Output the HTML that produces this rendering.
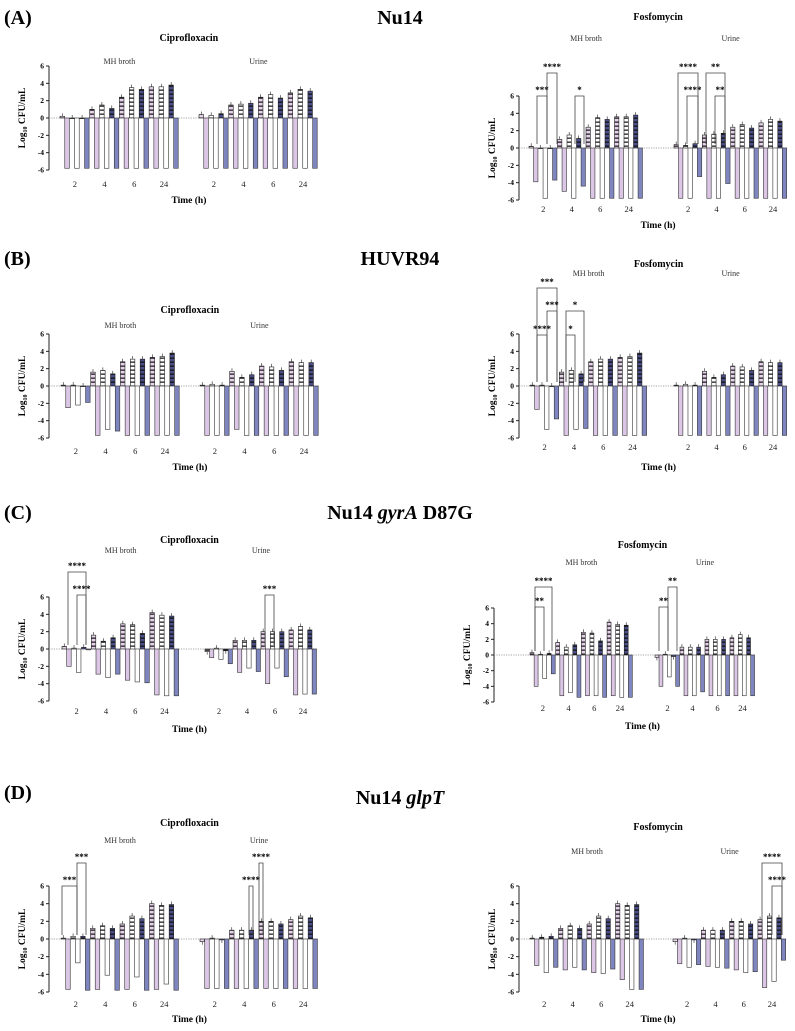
<!DOCTYPE html>
<html><head><meta charset="utf-8"><style>
body{margin:0;background:#fff}
svg{display:block;font-family:"Liberation Serif",serif}
</style></head><body>
<svg id="fig" width="795" height="1031" viewBox="0 0 795 1031" xmlns="http://www.w3.org/2000/svg">
<defs>
<pattern id="pPink" width="4" height="4" patternUnits="userSpaceOnUse"><rect width="4" height="4" fill="#e6d2ea"/><rect y="1.5" width="4" height="1.3" fill="#222"/></pattern>
<pattern id="pWhite" width="4" height="4" patternUnits="userSpaceOnUse"><rect width="4" height="4" fill="#fff"/><rect y="1.5" width="4" height="1.3" fill="#222"/></pattern>
<pattern id="pBlue" width="4" height="4" patternUnits="userSpaceOnUse"><rect width="4" height="4" fill="#4a4f8a"/><rect y="1.5" width="4" height="1.3" fill="#111"/></pattern>
</defs>
<text x="4" y="24" font-size="20" font-weight="bold">(A)</text>
<text x="400" y="24" font-size="20" font-weight="bold" text-anchor="middle">Nu14</text>
<text x="4" y="265" font-size="20" font-weight="bold">(B)</text>
<text x="400" y="265" font-size="20" font-weight="bold" text-anchor="middle">HUVR94</text>
<text x="4" y="519" font-size="20" font-weight="bold">(C)</text>
<text x="400" y="519" font-size="20" font-weight="bold" text-anchor="middle">Nu14 <tspan font-style="italic">gyrA</tspan> D87G</text>
<text x="4" y="799" font-size="20" font-weight="bold">(D)</text>
<text x="400" y="804" font-size="20" font-weight="bold" text-anchor="middle">Nu14 <tspan font-style="italic">glpT</tspan></text>
</svg>
<script>
// ---- data (log10 CFU/mL); 12 slots per condition: 4 time points x 3 strains ----
const timeLabels = ["2","4","6","24"];
const yTicks = [6,4,2,0,-2,-4,-6];
const aCipMhPos = [0.2,0,0, 1.0,1.5,1.1, 2.4,3.5,3.3, 3.6,3.6,3.8];
const aCipMhNeg = [-5.8,-5.8,-5.8, -5.8,-5.8,-5.8, -5.8,-5.8,-5.8, -5.8,-5.8,-5.8];
const aCipUrPos = [0.4,0.3,0.5, 1.5,1.6,1.7, 2.4,2.7,2.3, 2.9,3.3,3.1];
const aCipUrNeg = [-5.8,-5.8,-5.8, -5.8,-5.8,-5.8, -5.8,-5.8,-5.8, -5.8,-5.8,-5.8];
const aFosMhPos = [0.2,0,0, 1.0,1.5,1.1, 2.4,3.5,3.3, 3.6,3.6,3.8];
const aFosMhNeg = [-3.9,-5.8,-3.7, -5.0,-5.8,-4.4, -5.8,-5.8,-5.8, -5.8,-5.8,-5.8];
const aFosUrPos = [0.4,0.3,0.5, 1.5,1.6,1.7, 2.4,2.7,2.3, 2.9,3.3,3.1];
const aFosUrNeg = [-5.8,-5.8,-3.3, -5.8,-5.8,-4.1, -5.8,-5.8,-5.8, -5.8,-5.8,-5.8];
const bCipMhPos = [0.1,0.1,0, 1.6,1.8,1.4, 2.8,3.1,3.1, 3.3,3.4,3.8];
const bCipMhNeg = [-2.5,-2.2,-1.9, -5.7,-5.0,-5.2, -5.7,-5.7,-5.7, -5.7,-5.7,-5.7];
const bCipUrPos = [0.1,0.2,0.1, 1.7,1.0,1.3, 2.3,2.2,1.8, 2.8,2.7,2.7];
const bCipUrNeg = [-5.7,-5.7,-5.7, -5.0,-5.7,-5.7, -5.7,-5.7,-5.7, -5.7,-5.7,-5.7];
const bFosMhPos = [0.1,0.1,0, 1.6,1.8,1.4, 2.8,3.1,3.1, 3.3,3.4,3.8];
const bFosMhNeg = [-2.7,-5.0,-3.8, -5.7,-5.0,-4.9, -5.7,-5.7,-5.7, -5.7,-5.7,-5.7];
const bFosUrPos = [0.1,0.2,0.1, 1.7,1.0,1.3, 2.3,2.2,1.8, 2.8,2.7,2.7];
const bFosUrNeg = [-5.7,-5.7,-5.7, -5.7,-5.7,-5.7, -5.7,-5.7,-5.7, -5.7,-5.7,-5.7];
const cCipMhPos = [0.3,0.1,0.2, 1.6,0.9,1.3, 2.9,2.8,1.8, 4.2,3.9,3.8];
const cCipMhNeg = [-2.0,-2.7,-0.1, -2.9,-3.3,-2.9, -3.6,-3.8,-3.9, -5.3,-5.4,-5.4];
const cCipUrPos = [-0.3,0.1,-0.2, 1.0,1.0,1.0, 2.0,2.0,2.0, 2.2,2.6,2.2];
const cCipUrNeg = [-1.0,-1.2,-1.7, -2.7,-2.2,-2.6, -4.0,-2.2,-3.2, -5.3,-5.2,-5.2];
const cFosMhPos = [0.3,0.1,0.2, 1.6,1.0,1.3, 2.9,2.8,1.8, 4.2,3.9,3.8];
const cFosMhNeg = [-4.0,-3.0,-2.4, -5.2,-4.8,-5.4, -5.2,-5.2,-5.4, -5.2,-5.4,-5.4];
const cFosUrPos = [-0.3,0.1,-0.2, 1.0,1.0,1.0, 2.0,2.0,2.0, 2.2,2.6,2.2];
const cFosUrNeg = [-4.0,-2.8,-4.0, -5.2,-5.2,-4.7, -5.2,-5.2,-5.2, -5.2,-5.2,-5.2];
const dCipMhPos = [0.1,0.3,0.3, 1.2,1.5,1.2, 1.7,2.6,2.3, 4.0,3.8,3.9];
const dCipMhNeg = [-5.7,-2.7,-5.8, -5.7,-4.1,-5.8, -5.7,-4.3,-5.8, -5.7,-5.1,-5.8];
const dCipUrPos = [-0.3,0.1,-0.1, 1.0,1.0,1.0, 2.0,2.0,1.7, 2.2,2.6,2.4];
const dCipUrNeg = [-5.6,-5.6,-5.6, -5.6,-5.6,-5.6, -5.6,-5.6,-5.6, -5.6,-5.6,-5.6];
const dFosMhPos = [0.1,0.2,0.3, 1.2,1.5,1.2, 1.7,2.6,2.3, 4.0,3.8,3.9];
const dFosMhNeg = [-3.0,-3.8,-3.2, -3.5,-3.2,-3.5, -3.8,-3.9,-3.4, -4.6,-5.7,-5.7];
const dFosUrPos = [-0.3,0.1,-0.1, 1.0,1.0,1.0, 2.0,2.0,1.7, 2.2,2.6,2.4];
const dFosUrNeg = [-2.8,-3.2,-2.9, -3.1,-3.2,-3.3, -3.5,-3.8,-3.7, -5.5,-4.8,-2.4];

const NS="http://www.w3.org/2000/svg";
const svg=document.getElementById('fig');
function mk(tag,attrs,parent){const e=document.createElementNS(NS,tag);for(const k in attrs)e.setAttribute(k,attrs[k]);(parent||svg).appendChild(e);return e;}
function txt(s,x,y,size,parent,extra){const e=mk('text',Object.assign({x:x,y:y,'font-size':size,'text-anchor':'middle'},extra||{}),parent);e.textContent=s;return e;}

const posFill=['url(#pPink)','url(#pWhite)','url(#pBlue)'];
const negFill=['#dcc6e6','#ffffff','#7f86bf'];

function chart(id,c){
  const g=mk('g',{});
  
  
  const y=v=>c.y0-(c.y0-c.y6)*v/6;
  const t=txt(c.title,(c.mhStart+c.urStart+4*c.urGw)/2,c.titleY,10,g,{'font-weight':'bold'});
  
  
  const ax=mk('line',{x1:c.ax,x2:c.ax,y1:y(6),y2:y(-6),stroke:'#222','stroke-width':1},g);
  
  
  yTicks.forEach(v=>{
    mk('line',{x1:c.ax-3,x2:c.ax,y1:y(v),y2:y(v),stroke:'#222'},g);
    const tl=txt(String(v),c.ax-5,y(v)+2.5,7.5,g,{'text-anchor':'end','font-weight':'bold'});
    
    
  });
  const yl=txt('',0,0,9.5,g,{'font-weight':'bold',transform:`translate(${c.ax-24},${(y(6)+y(-6))/2}) rotate(-90)`});
  yl.innerHTML='Log<tspan font-size="6" dy="2">10</tspan><tspan dy="-2"> CFU/mL</tspan>';
  
  
  const endX=c.urStart+4*c.urGw;
  const zl=mk('line',{x1:c.ax,x2:endX,y1:y(0),y2:y(0),stroke:'#888','stroke-width':0.7,'stroke-dasharray':'1.2,1.2'},g);
  
  
  [['MH broth',c.mhStart,c.mhGw,c.mhPos,c.mhNeg],['Urine',c.urStart,c.urGw,c.urPos,c.urNeg]].forEach(([name,st,gw,pos,neg])=>{
    const cl=txt(name,st+2*gw,c.condY,8,g,{fill:'#333'});
    
    
    const sw=gw/3, bw=Math.min(4.6,sw*0.46);
    pos.forEach((v,i)=>{
      const x=st+i*sw;
      const r=mk('rect',{x:x,y:Math.min(y(v),y(0)),width:bw,height:Math.max(0.6,Math.abs(y(v)-y(0))),fill:posFill[i%3],stroke:'#222','stroke-width':0.6},g);
      
      
      mk('line',{x1:x+bw/2,x2:x+bw/2,y1:y(v),y2:y(v)-(v>=0?3:-3),stroke:'#222','stroke-width':0.6},g);
      const n=neg[i], x2=x+bw+0.2;
      const r2=mk('rect',{x:x2,y:y(0),width:bw,height:Math.abs(y(n)-y(0)),fill:negFill[i%3],stroke:'#333','stroke-width':0.6},g);
      
      
    });
    timeLabels.forEach((s,k)=>{
      const tl=txt(s,st+k*gw+gw/2,c.tickY,8.5,g,{fill:'#222'});
      
      
    });
  });
  const xt=txt('Time (h)',(c.mhStart+endX)/2,c.timeY,9.5,g,{'font-weight':'bold'});
  
  
  (c.sig||[]).forEach(([x1,x2,by,lab])=>{
    const p=mk('path',{d:`M${x1},${y(0)-4}V${by}H${x2}V${y(0)-4}`,fill:'none',stroke:'#444','stroke-width':0.8},g);
    
    
    const st=txt(lab,(x1+x2)/2,by-3,9,g,{'font-weight':'bold'});
    
    
  });
}

chart('chart-a-ciprofloxacin',{title:'Ciprofloxacin',titleY:41,condY:64,ax:49,y6:66,y0:118,mhStart:60,mhGw:29.7,urStart:199,urGw:29.7,tickY:187,timeY:203,mhPos:aCipMhPos,mhNeg:aCipMhNeg,urPos:aCipUrPos,urNeg:aCipUrNeg});
chart('chart-a-fosfomycin',{title:'Fosfomycin',titleY:20,condY:41,ax:519,y6:96,y0:148,mhStart:529,mhGw:28.5,urStart:674,urGw:28.3,tickY:212,timeY:228,mhPos:aFosMhPos,mhNeg:aFosMhNeg,urPos:aFosUrPos,urNeg:aFosUrNeg,
  sig:[[537,547,96,'***'],[547,557,73,'****'],[575,584,96,'*'],[678,698,73,'****'],[687,698,96,'****'],[706,725,73,'**'],[715,725,96,'**']]});
chart('chart-b-ciprofloxacin',{title:'Ciprofloxacin',titleY:313,condY:328,ax:49,y6:334,y0:386,mhStart:61,mhGw:29.7,urStart:200,urGw:29.7,tickY:454,timeY:470,mhPos:bCipMhPos,mhNeg:bCipMhNeg,urPos:bCipUrPos,urNeg:bCipUrNeg});
chart('chart-b-fosfomycin',{title:'Fosfomycin',titleY:267,condY:276,ax:519,y6:334,y0:386,mhStart:530,mhGw:29.3,urStart:674,urGw:28.3,tickY:450,timeY:470,mhPos:bFosMhPos,mhNeg:bFosMhNeg,urPos:bFosUrPos,urNeg:bFosUrNeg,
  sig:[[537,557,288,'***'],[547,557,311,'***'],[537,547,335,'****'],[566,584,311,'*'],[566,575,335,'*']]});
chart('chart-c-ciprofloxacin',{title:'Ciprofloxacin',titleY:543,condY:553,ax:49,y6:597,y0:649,mhStart:62,mhGw:29.3,urStart:205,urGw:28,tickY:714,timeY:732,mhPos:cCipMhPos,mhNeg:cCipMhNeg,urPos:cCipUrPos,urNeg:cCipUrNeg,
  sig:[[68,86,572,'****'],[77,86,595,'****'],[265,274,595,'***']]});
chart('chart-c-fosfomycin',{title:'Fosfomycin',titleY:548,condY:565,ax:494,y6:608,y0:655,mhStart:530,mhGw:25.7,urStart:655,urGw:25,tickY:711,timeY:729,mhPos:cFosMhPos,mhNeg:cFosMhNeg,urPos:cFosUrPos,urNeg:cFosUrNeg,
  sig:[[535,552,587,'****'],[535,544,607,'**'],[659,668,607,'**'],[668,677,587,'**']]});
chart('chart-d-ciprofloxacin',{title:'Ciprofloxacin',titleY:826,condY:843,ax:49,y6:886,y0:939,mhStart:61,mhGw:29.5,urStart:200,urGw:29.5,tickY:1007,timeY:1022,mhPos:dCipMhPos,mhNeg:dCipMhNeg,urPos:dCipUrPos,urNeg:dCipUrNeg,
  sig:[[77,86,863,'***'],[62,77,886,'***'],[259,263,863,'****'],[249,253,886,'****']]});
chart('chart-d-fosfomycin',{title:'Fosfomycin',titleY:830,condY:854,ax:519,y6:886,y0:939,mhStart:530,mhGw:28.5,urStart:673,urGw:28.3,tickY:1007,timeY:1022,mhPos:dFosMhPos,mhNeg:dFosMhNeg,urPos:dFosUrPos,urNeg:dFosUrNeg,
  sig:[[762,782,863,'****'],[772,782,886,'****']]});
</script>
</body></html>
